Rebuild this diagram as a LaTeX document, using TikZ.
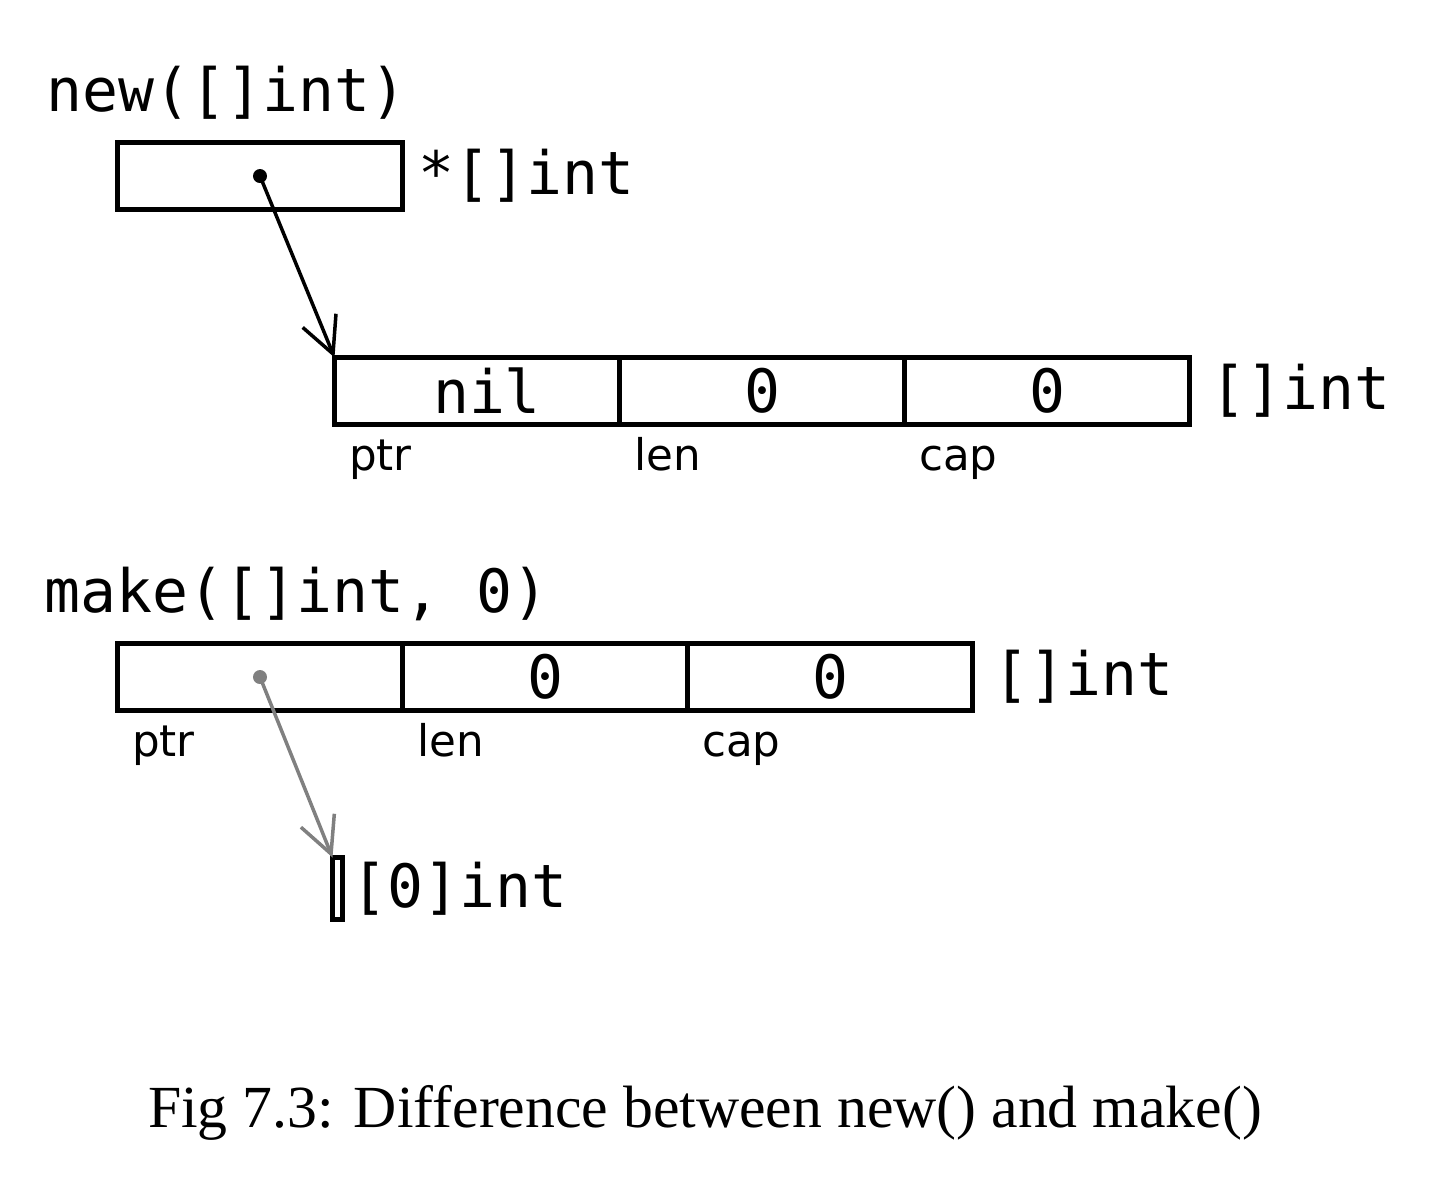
\documentclass[tikz,border=0pt]{standalone}
\usepackage{fontspec}
\setmainfont{Liberation Serif}
\newfontfamily\monofont{DejaVu Sans Mono}
\newfontfamily\fieldfont{DejaVu Sans}
\usetikzlibrary{positioning,arrows.meta}

\tikzset{
  cell/.style={draw,line width=0.055cm,minimum width=2.85cm,minimum height=0.67cm,inner sep=0pt,outer sep=0pt,font=\monofont\fontsize{17}{20}\selectfont},
  code/.style={font=\monofont\fontsize{17}{20}\selectfont,inner sep=0pt},
  field/.style={font=\fieldfont\fontsize{12.4}{14}\selectfont,inner sep=0pt,anchor=base west},
  ptrarrow/.style={-{Straight Barb[length=0.36cm,width=0.36cm]},line width=0.035cm},
}

\begin{document}
\begin{tikzpicture}
\useasboundingbox (0,0) rectangle (14.48,-11.82);

%new([]int)
\node[code,anchor=base west] (newlbl) at (0.46,-1.11) {new([]int)};
\node[cell] (pbox) at (2.60,-1.76) {};
\node[code,anchor=west] (ptype) at ([xshift=0.15cm]pbox.east) {*[]int};

\node[cell] (ptra) at (4.77,-3.91) {\hspace{0.2cm}nil};
\node[cell,right=0pt of ptra] (lena) {0};
\node[cell,right=0pt of lena] (capa) {0};
\node[code,anchor=west] (typea) at ([xshift=0.2cm]capa.east) {[]int};
\node[field] (ptrla) at ([xshift=0.14cm,yshift=-0.46cm]ptra.south west) {ptr};
\node[field] (lenla) at ([xshift=0.14cm,yshift=-0.46cm]lena.south west) {len};
\node[field] (capla) at ([xshift=0.14cm,yshift=-0.46cm]capa.south west) {cap};

\fill (pbox.center) circle (0.07cm);
\draw[ptrarrow] (pbox.center) -- (ptra.north west);

%make([]int, 0)
\node[code,anchor=base west] (makelbl) at (0.44,-6.12) {make([]int, 0)};
\node[cell] (ptrb) at (2.60,-6.77) {};
\node[cell,right=0pt of ptrb] (lenb) {0};
\node[cell,right=0pt of lenb] (capb) {0};
\node[code,anchor=west] (typeb) at ([xshift=0.2cm]capb.east) {[]int};
\node[field] (ptrlb) at ([xshift=0.14cm,yshift=-0.46cm]ptrb.south west) {ptr};
\node[field] (lenlb) at ([xshift=0.14cm,yshift=-0.46cm]lenb.south west) {len};
\node[field] (caplb) at ([xshift=0.14cm,yshift=-0.46cm]capb.south west) {cap};

\node[cell,minimum width=0.1cm,minimum height=0.62cm] (arr) at (3.375,-8.885) {};
\node[code,anchor=west] (arrtype) at ([xshift=0.08cm]arr.east) {[0]int};

\fill[gray] (ptrb.center) circle (0.07cm);
\draw[ptrarrow,gray] (ptrb.center) -- (arr.north west);

\node[font=\fontsize{17}{20}\selectfont,anchor=base,inner sep=0pt] (caption) at (7.05,-11.27) {Fig 7.3: Difference between new() and make()};
\end{tikzpicture}
\end{document}
